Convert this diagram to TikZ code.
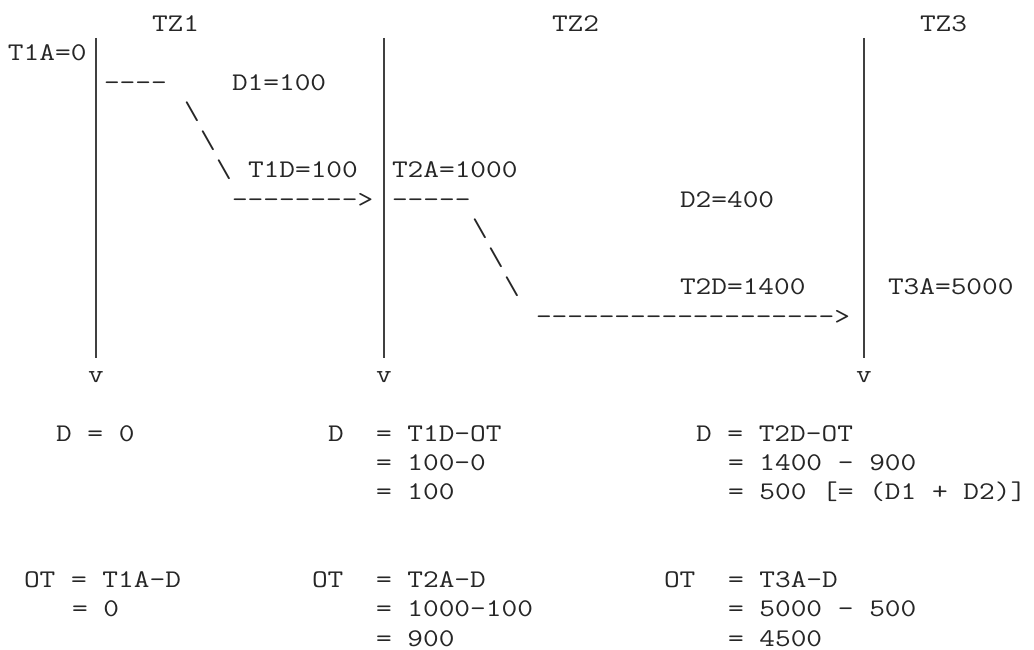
\documentclass[tikz,border=0pt]{standalone}
\usepackage{fontspec}
\setmonofont{Latin Modern Mono}[FakeStretch=1.2]
\tikzset{
  t/.style={anchor=base west, inner sep=0pt, outer sep=0pt, text=black!85,
            font=\ttfamily\fontsize{25.4pt}{29.27pt}\selectfont},
  tl/.style={draw=black!75, line width=1.4pt}
}
\begin{document}
\begin{tikzpicture}
\useasboundingbox[fill=white] (0pt,0pt) rectangle (1034pt,-650pt);
\begin{scope}[shift={(8pt,-31.5pt)}, x=16pt, y=-29.27pt]
% headers
\node[t] (tz1) at (9,0) {TZ1};
\node[t] (tz2) at (34,0) {TZ2};
\node[t] (tz3) at (57,0) {TZ3};
% timelines
\coordinate (l1top) at (5.5,0.22);
\coordinate (l2top) at (23.5,0.22);
\coordinate (l3top) at (53.5,0.22);
\coordinate (l1bot) at (5.5,11.155);
\coordinate (l2bot) at (23.5,11.155);
\coordinate (l3bot) at (53.5,11.155);
\draw[tl] (l1top) -- (l1bot);
\draw[tl] (l2top) -- (l2bot);
\draw[tl] (l3top) -- (l3bot);
\node[t] (v1) at (5,12) {v};
\node[t] (v2) at (23,12) {v};
\node[t] (v3) at (53,12) {v};
% row labels
\node[t] (t1a) at (0,1) {T1A=0};
\node[t] (dash1) at (6,2) {----};
\node[t] (d1) at (14,2) {D1=100};
\node[t] (bs1a) at (11,3) {\textbackslash};
\node[t] (bs1b) at (12,4) {\textbackslash};
\node[t] (bs1c) at (13,5) {\textbackslash};
\node[t] (t1d) at (15,5) {T1D=100};
\node[t] (t2a) at (24,5) {T2A=1000};
\node[t] (arr1) at (14,6) {-------->};
\node[t] (dash2) at (24,6) {-----};
\node[t] (d2) at (42,6) {D2=400};
\node[t] (bs2a) at (29,7) {\textbackslash};
\node[t] (bs2b) at (30,8) {\textbackslash};
\node[t] (bs2c) at (31,9) {\textbackslash};
\node[t] (t2d) at (42,9) {T2D=1400};
\node[t] (t3a) at (55,9) {T3A=5000};
\node[t] (arr2) at (33,10) {------------------->};
% D calculations
\node[t] (da) at (3,14) {D = 0};
\node[t] (db) at (20,14) {D};
\node[t] (db1) at (23,14) {= T1D-OT};
\node[t] (db2) at (23,15) {= 100-0};
\node[t] (db3) at (23,16) {= 100};
\node[t] (dc) at (43,14) {D = T2D-OT};
\node[t] (dc2) at (45,15) {= 1400 - 900};
\node[t] (dc3) at (45,16) {= 500 [= (D1 + D2)]};
% OT calculations
\node[t] (oa) at (1,19) {OT = T1A-D};
\node[t] (oa2) at (4,20) {= 0};
\node[t] (ob) at (19,19) {OT};
\node[t] (ob1) at (23,19) {= T2A-D};
\node[t] (ob2) at (23,20) {= 1000-100};
\node[t] (ob3) at (23,21) {= 900};
\node[t] (oc) at (41,19) {OT};
\node[t] (oc1) at (45,19) {= T3A-D};
\node[t] (oc2) at (45,20) {= 5000 - 500};
\node[t] (oc3) at (45,21) {= 4500};
\end{scope}
\end{tikzpicture}
\end{document}
